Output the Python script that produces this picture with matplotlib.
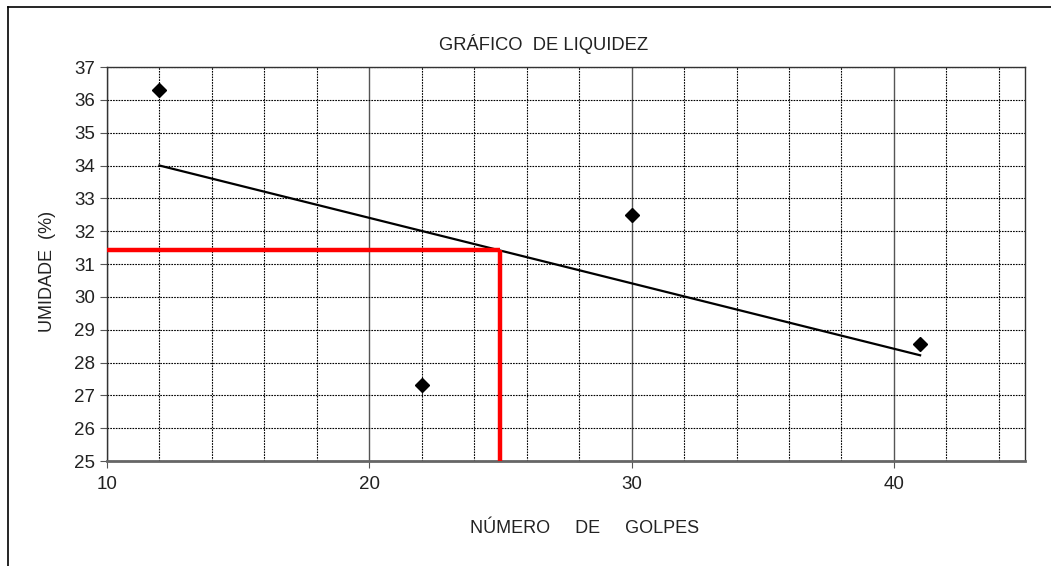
import matplotlib
matplotlib.use("Agg")
import matplotlib.pyplot as plt
from matplotlib.lines import Line2D
from matplotlib.ticker import MultipleLocator

plt.rcParams["font.family"] = ["Liberation Sans", "DejaVu Sans"]

# data
golpes = [12, 22, 30, 41]
umidade = [36.3, 27.3, 32.5, 28.55]
trend_x = [12, 41]
trend_y = [34.0, 28.22]
ll_golpes = 25
ll_umidade = 31.42

fig = plt.figure(figsize=(10.51, 5.66), dpi=100)
ax = fig.add_axes([0.1018, 0.1855, 0.8735, 0.6961])

ax.set_xlim(10, 45)
ax.set_ylim(25, 37)
ax.xaxis.set_major_locator(MultipleLocator(10))
ax.xaxis.set_minor_locator(MultipleLocator(2))
ax.yaxis.set_major_locator(MultipleLocator(1))

# grid: dashed every 2 on x, every 1 on y, solid grey at the major x ticks
ax.grid(True, which="minor", axis="x", color="black", linestyle=(0, (1.5, 1)), linewidth=0.8)
ax.grid(True, which="major", axis="y", color="black", linestyle=(0, (1.5, 1)), linewidth=0.8)
ax.grid(True, which="major", axis="x", color="#555555", linestyle="-", linewidth=1.0)
ax.set_axisbelow(True)

ax.tick_params(axis="both", which="major", direction="out", length=5, labelsize=13.5,
               color="#555555", labelcolor="#222222")
ax.tick_params(axis="x", which="minor", length=0)
ax.tick_params(axis="x", pad=6)

for side in ["top", "right", "left"]:
    ax.spines[side].set_color("#333333")
    ax.spines[side].set_linewidth(1.0)
ax.spines["bottom"].set_color("#666666")
ax.spines["bottom"].set_linewidth(2.0)

# trend line and points
ax.plot(trend_x, trend_y, color="black", linewidth=1.6, zorder=3)
ax.plot(golpes, umidade, linestyle="none", marker="D", markersize=7.5,
        color="black", zorder=4)

# liquid limit at 25 blows
ax.plot([10, ll_golpes], [ll_umidade, ll_umidade], color="#ff0000", linewidth=3.2,
        solid_capstyle="butt", zorder=5, clip_on=False)
ax.plot([ll_golpes, ll_golpes], [25, ll_umidade], color="#ff0000", linewidth=3.2,
        solid_capstyle="butt", zorder=5, clip_on=False)

fig.text(0.517, 0.922, "GRÁFICO  DE LIQUIDEZ", ha="center", va="center",
         fontsize=13.2, color="#222222")
fig.text(0.556, 0.067, "NÚMERO     DE     GOLPES", ha="center", va="center",
         fontsize=13, color="#222222")
fig.text(0.045, 0.52, "UMIDADE  (%)", ha="center", va="center", rotation=90,
         fontsize=13, color="#222222")

# outer frame (top and left edges visible)
fig.add_artist(Line2D([8 / 1051, 8 / 1051], [0, 1 - 7 / 566], color="black", linewidth=1.2))
fig.add_artist(Line2D([8 / 1051, 1], [1 - 7 / 566, 1 - 7 / 566], color="black", linewidth=1.2))

fig.savefig("out.png", dpi=100)
